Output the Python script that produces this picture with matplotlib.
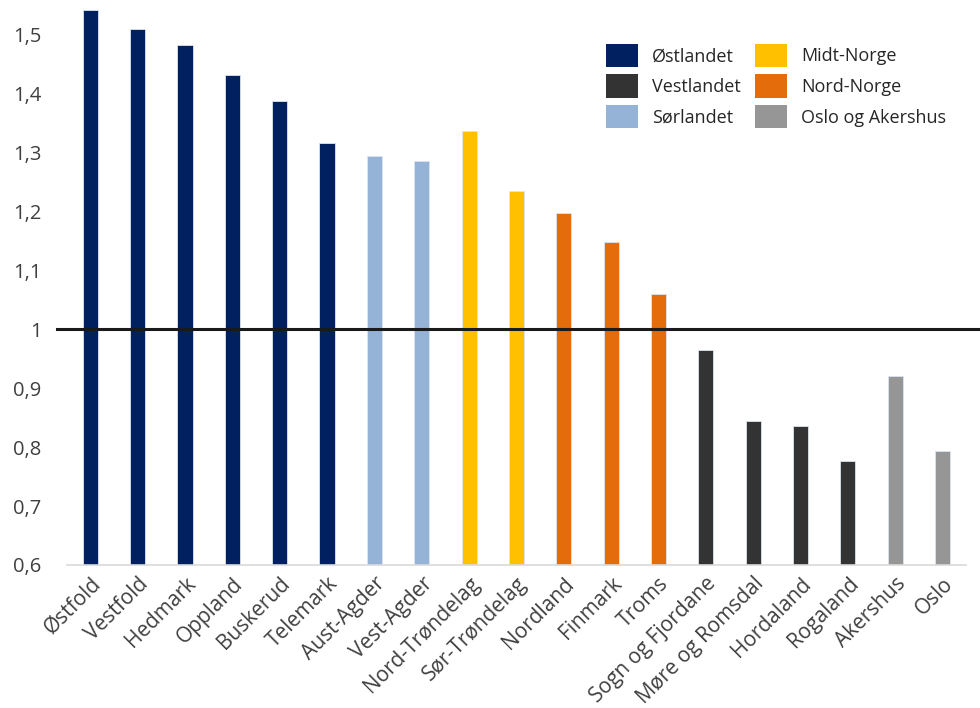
import matplotlib.pyplot as plt
from matplotlib.patches import Patch

fylker = ['Østfold', 'Vestfold', 'Hedmark', 'Oppland', 'Buskerud', 'Telemark',
          'Aust-Agder', 'Vest-Agder', 'Nord-Trøndelag', 'Sør-Trøndelag',
          'Nordland', 'Finmark', 'Troms', 'Sogn og Fjordane', 'Møre og Romsdal',
          'Hordaland', 'Rogaland', 'Akershus', 'Oslo']
verdi = [1.542, 1.509, 1.483, 1.432, 1.387, 1.316,
         1.294, 1.285, 1.336, 1.235,
         1.197, 1.148, 1.059, 0.965, 0.845,
         0.835, 0.776, 0.920, 0.793]
region = ['Østlandet'] * 6 + ['Sørlandet'] * 2 + ['Midt-Norge'] * 2 + \
         ['Nord-Norge'] * 3 + ['Vestlandet'] * 4 + ['Oslo og Akershus'] * 2

farger = {
    'Østlandet': '#002060',
    'Vestlandet': '#333333',
    'Sørlandet': '#95b3d7',
    'Midt-Norge': '#ffc000',
    'Nord-Norge': '#e46c0a',
    'Oslo og Akershus': '#969696',
}
legend_order = ['Østlandet', 'Vestlandet', 'Sørlandet',
                'Midt-Norge', 'Nord-Norge', 'Oslo og Akershus']

plt.rcParams['font.family'] = ['Open Sans', 'DejaVu Sans']

fig = plt.figure(figsize=(9.8, 7.08), dpi=100)
ax = fig.add_axes([0.068, 0.202, 0.918, 0.795])

x = range(len(fylker))
base = 0.6
ax.bar(x, [v - base for v in verdi], bottom=base, width=0.32,
       color=[farger[r] for r in region], edgecolor='#dde4ee', linewidth=0.6,
       zorder=2)

# reference line at 1, running slightly past the plot area
ax.axhline(1.0, xmin=-0.011, xmax=1.02, color='#1a1a1a', linewidth=2.2,
           clip_on=False, zorder=3)

ax.set_xlim(-0.5, len(fylker) - 0.5)
ax.set_ylim(0.6, 1.555)
ax.set_yticks([0.6, 0.7, 0.8, 0.9, 1.0, 1.1, 1.2, 1.3, 1.4, 1.5])
ax.set_yticklabels(['0,6', '0,7', '0,8', '0,9', '1', '1,1', '1,2', '1,3', '1,4', '1,5'])
ax.set_xticks(list(x))
ax.set_xticklabels(fylker, rotation=45, ha='right', rotation_mode='anchor')

ax.tick_params(axis='y', length=0, pad=18, labelsize=14.5, labelcolor='#404040')
ax.tick_params(axis='x', length=0, pad=6, labelsize=15, labelcolor='#404040')

for side in ['top', 'right', 'left']:
    ax.spines[side].set_visible(False)
ax.spines['bottom'].set_color('#d9d9d9')
ax.spines['bottom'].set_linewidth(1.2)

handles = [Patch(facecolor=farger[r], label=r) for r in legend_order]
ax.legend(handles=handles, ncol=2, frameon=False, fontsize=13,
          loc='upper right', bbox_to_anchor=(0.996, 0.955),
          handlelength=1.75, handleheight=1.6, handletextpad=0.8,
          columnspacing=0.8, labelspacing=0.42, labelcolor='#262626')

fig.savefig('out.png', dpi=100)
